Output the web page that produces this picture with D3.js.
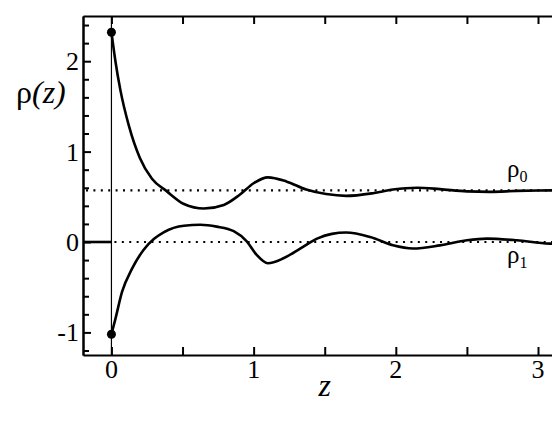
<!DOCTYPE html>
<html>
<head>
<meta charset="UTF-8">
<style>
  body { margin: 0; }
  svg text, svg tspan { font-family: "Liberation Serif", "Times New Roman", Tinos, FreeSerif, serif !important; fill: #000; }
</style>
</head>
<body>
<script src="https://cdn.jsdelivr.net/npm/d3@7"></script>
<script>
// data
var zRho0 = [0, 0.028, 0.063, 0.122, 0.20, 0.285, 0.39, 0.51, 0.65, 0.79, 0.90, 1.00, 1.10, 1.23, 1.37, 1.51, 1.65, 1.84, 1.98, 2.15, 2.31, 2.50, 2.66, 2.85, 3.0, 3.2];
var rho0 = [2.32, 2.00, 1.68, 1.29, 0.93, 0.70, 0.56, 0.42, 0.37, 0.41, 0.52, 0.65, 0.715, 0.67, 0.58, 0.53, 0.51, 0.54, 0.58, 0.60, 0.585, 0.56, 0.555, 0.565, 0.57, 0.572];
var zRho1 = [0, 0.028, 0.075, 0.145, 0.227, 0.30, 0.37, 0.51, 0.625, 0.74, 0.86, 0.95, 1.02, 1.10, 1.21, 1.33, 1.45, 1.55, 1.65, 1.82, 1.98, 2.12, 2.31, 2.50, 2.64, 2.85, 3.08, 3.2];
var rho1 = [-1.02, -0.85, -0.55, -0.295, -0.085, 0.035, 0.11, 0.18, 0.19, 0.17, 0.12, 0.01, -0.14, -0.235, -0.18, -0.07, 0.04, 0.09, 0.105, 0.055, -0.037, -0.072, -0.037, 0.019, 0.037, 0.019, -0.018, -0.02];
var rho0Limit = 0.572;
var rho1Limit = 0;
var xMajor = [0, 1, 2, 3];
var xMinor = [0.5, 1.5, 2.5];
var yMajor = [-1, 0, 1, 2];
var yMinor = [-1.2, -0.8, -0.6, -0.4, -0.2, 0.2, 0.4, 0.6, 0.8, 1.2, 1.4, 1.6, 1.8, 2.2, 2.4];

var W = 552, H = 427;
var margin = { top: 16, left: 83, bottom: 72 };
var serif = "Liberation Serif, Times New Roman, Tinos, FreeSerif, serif";

var x = d3.scaleLinear().domain([-0.2, 3.2]).range([margin.left, margin.left + 3.4 * 142.19]);
var y = d3.scaleLinear().domain([-1.25, 2.5]).range([H - margin.bottom, margin.top]);

var svg = d3.select("body").append("svg").attr("width", W).attr("height", H)
  .attr("font-family", serif);

// axes, ticks point inward; labels drawn separately
function styleAxis(g) {
  g.attr("font-family", serif);
  g.selectAll("path, line").attr("stroke", "#000").attr("stroke-width", 2);
}
svg.append("g")
  .attr("transform", "translate(0," + y(-1.25) + ")")
  .call(d3.axisBottom(x).tickValues(xMajor.concat(xMinor)).tickSize(-8).tickSizeOuter(0).tickFormat(""))
  .call(styleAxis);
svg.append("g")
  .attr("transform", "translate(0," + y(2.5) + ")")
  .call(d3.axisTop(x).tickValues(xMajor.concat(xMinor)).tickSize(-8).tickSizeOuter(0).tickFormat(""))
  .call(styleAxis);
svg.append("g")
  .attr("transform", "translate(" + x(-0.2) + ",0)")
  .call(d3.axisLeft(y).tickValues(yMajor).tickSize(-8).tickSizeOuter(0).tickFormat(""))
  .call(styleAxis);
svg.append("g")
  .attr("transform", "translate(" + x(-0.2) + ",0)")
  .call(d3.axisLeft(y).tickValues(yMinor).tickSize(-6).tickSizeOuter(0).tickFormat(""))
  .call(styleAxis);

svg.selectAll("text.xtick").data(xMajor).enter().append("text")
  .attr("class", "xtick")
  .attr("font-family", serif)
  .attr("font-size", 26)
  .attr("x", function(d) { return x(d); })
  .attr("y", 378)
  .attr("text-anchor", "middle")
  .text(function(d) { return String(d); });

svg.selectAll("text.ytick").data(yMajor).enter().append("text")
  .attr("class", "ytick")
  .attr("font-family", serif)
  .attr("font-size", 26)
  .attr("x", x(-0.2) - 4)
  .attr("y", function(d) { return y(d) + 9; })
  .attr("text-anchor", "end")
  .text(function(d) { return String(d); });

// reference lines
svg.append("line")
  .attr("x1", x(0)).attr("x2", x(0))
  .attr("y1", y(2.5)).attr("y2", y(-1.25))
  .attr("stroke", "#000").attr("stroke-width", 1.2);

svg.selectAll("line.dotted").data([[-0.2, rho0Limit], [0, rho1Limit]]).enter().append("line")
  .attr("class", "dotted")
  .attr("x1", function(d) { return x(d[0]) + 3; }).attr("x2", W)
  .attr("y1", function(d) { return y(d[1]); }).attr("y2", function(d) { return y(d[1]); })
  .attr("stroke", "#000").attr("stroke-width", 2.2).attr("stroke-dasharray", "2 5.4");
svg.append("line")
  .attr("x1", x(-0.2)).attr("x2", x(0))
  .attr("y1", y(rho1Limit)).attr("y2", y(rho1Limit))
  .attr("stroke", "#000").attr("stroke-width", 2.6);

// curves
var line = d3.line()
  .x(function(d) { return x(d[0]); })
  .y(function(d) { return y(d[1]); })
  .curve(d3.curveMonotoneX);

var s0 = zRho0.map(function(z, i) { return [z, rho0[i]]; });
var s1 = zRho1.map(function(z, i) { return [z, rho1[i]]; });

svg.selectAll("path.curve").data([s0, s1]).enter().append("path")
  .attr("class", "curve")
  .attr("d", line)
  .attr("fill", "none").attr("stroke", "#000").attr("stroke-width", 2.6);

svg.selectAll("circle.start").data([s0[0], s1[0]]).enter().append("circle")
  .attr("class", "start")
  .attr("cx", function(d) { return x(d[0]); })
  .attr("cy", function(d) { return y(d[1]); })
  .attr("r", 4.5).attr("fill", "#000");

// labels
function rhoLabel(xp, yp, sub) {
  var t = svg.append("text")
    .attr("font-family", serif).attr("font-size", 25)
    .attr("x", xp).attr("y", yp);
  t.append("tspan").text("ρ");
  t.append("tspan").attr("font-size", 16).attr("dy", 5).text(sub);
}
rhoLabel(507, 177, "0");
rhoLabel(507, 263, "1");

var yl = svg.append("text")
  .attr("font-family", serif).attr("font-size", 32)
  .attr("x", 16).attr("y", 103);
yl.append("tspan").text("ρ");
yl.append("tspan").attr("font-style", "italic").text("(z)");

svg.append("text")
  .attr("font-family", serif).attr("font-size", 32).attr("font-style", "italic")
  .attr("x", x(1.5)).attr("y", 396)
  .attr("text-anchor", "middle")
  .text("z");
</script>
</body>
</html>
